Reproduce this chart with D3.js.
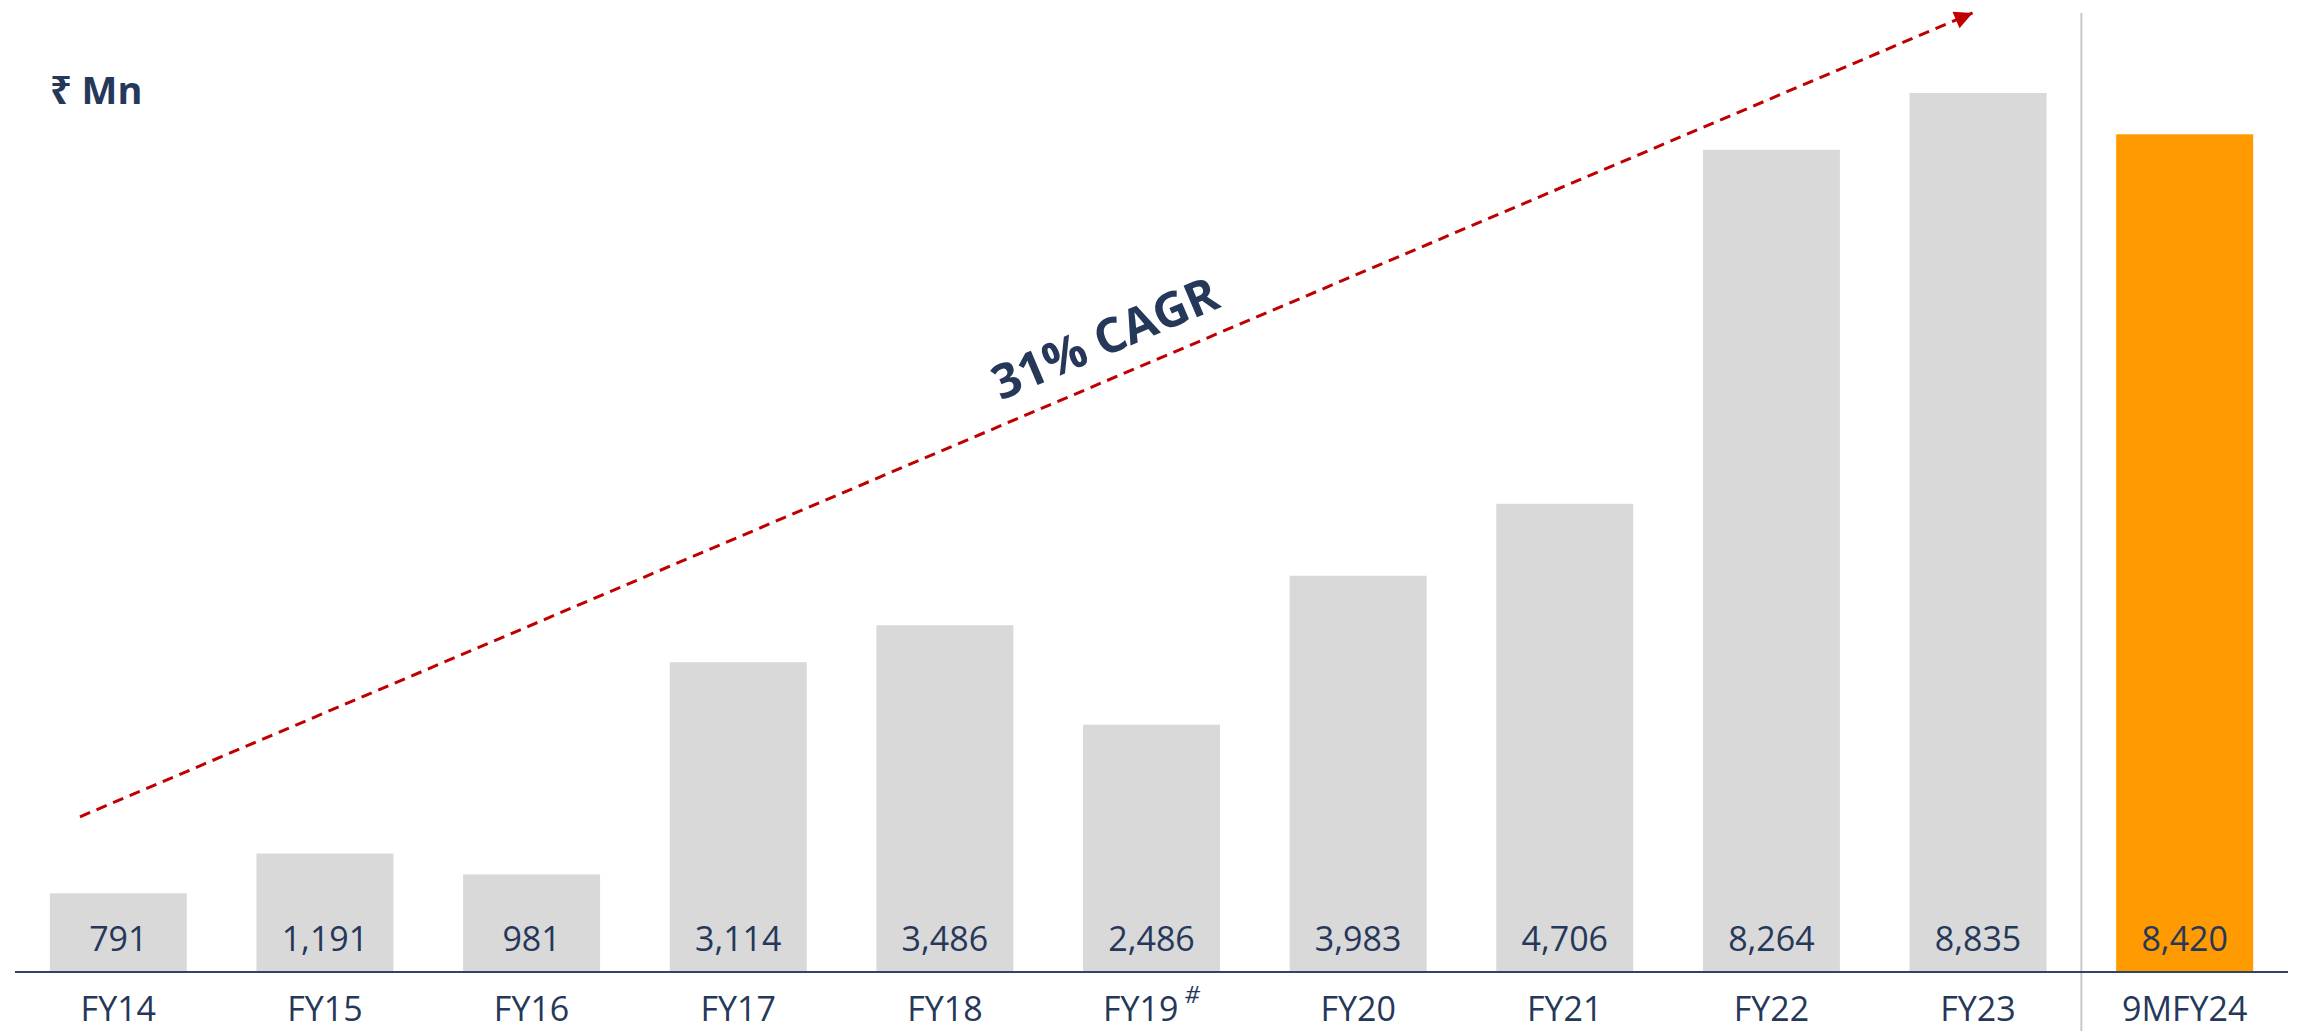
<!DOCTYPE html>
<meta charset="utf-8">
<style>
  body { margin: 0; background: #fff; }
  text { font-family: "Open Sans", "Noto Sans", "DejaVu Sans", sans-serif; }
</style>
<div id="chart"></div>
<script src="https://cdn.jsdelivr.net/npm/d3@7"></script>
<script>

// data
var categories = ["FY14", "FY15", "FY16", "FY17", "FY18", "FY19", "FY20", "FY21", "FY22", "FY23", "9MFY24"];
var values = [791, 1191, 981, 3114, 3486, 2486, 3983, 4706, 8264, 8835, 8420];
var superscripts = ["", "", "", "", "", "#", "", "", "", "", ""];
var unitLabel = "\u20B9 Mn";
var cagrLabel = "31% CAGR";
var highlight = "9MFY24";

var width = 2300, height = 1031;
var baseY = 972;
var navy = "#263859";

var svg = d3.select("#chart")
  .append("svg")
    .attr("width", width)
    .attr("height", height);

// x axis
var x = d3.scaleBand()
  .domain(categories)
  .range([15, 2288])
  .paddingInner(0.337)
  .paddingOuter(0.1685);

// y scale (no visible axis)
var y = d3.scaleLinear()
  .domain([0, 8835])
  .range([baseY, 93]);

// separator between full years and 9M
var sepX = x("FY23") + x.bandwidth() + (x.step() - x.bandwidth()) / 2;
svg.append("line")
  .attr("x1", sepX).attr("x2", sepX)
  .attr("y1", 13).attr("y2", height)
  .attr("stroke", "#c8c8c8")
  .attr("stroke-width", 2);

// bars
svg.selectAll(".bar")
  .data(categories)
  .enter()
  .append("rect")
    .attr("class", "bar")
    .attr("x", function(d) { return x(d); })
    .attr("y", function(d, i) { return y(values[i]); })
    .attr("width", x.bandwidth())
    .attr("height", function(d, i) { return baseY - y(values[i]); })
    .attr("fill", function(d) { return d === highlight ? "#ff9a00" : "#d9d9d9"; });

// value labels inside bars
svg.selectAll(".val")
  .data(categories)
  .enter()
  .append("text")
    .attr("class", "val")
    .attr("x", function(d) { return x(d) + x.bandwidth() / 2; })
    .attr("y", baseY - 21)
    .attr("text-anchor", "middle")
    .attr("font-size", 34)
    .attr("fill", navy)
    .text(function(d, i) { return d3.format(",")(values[i]); });

// baseline
svg.append("line")
  .attr("x1", 15).attr("x2", 2288)
  .attr("y1", baseY).attr("y2", baseY)
  .attr("stroke", "#2e4468")
  .attr("stroke-width", 2);

// category labels
var cat = svg.selectAll(".cat")
  .data(categories)
  .enter()
  .append("text")
    .attr("class", "cat")
    .attr("x", function(d) { return x(d) + x.bandwidth() / 2; })
    .attr("y", baseY + 49)
    .attr("text-anchor", "middle")
    .attr("font-size", 34)
    .attr("fill", navy);
cat.append("tspan").text(function(d) { return d; });
cat.append("tspan")
  .attr("font-size", 24)
  .attr("font-style", "italic")
  .attr("dx", 6)
  .attr("dy", -18)
  .text(function(d, i) { return superscripts[i]; });

// unit label
svg.append("text")
  .attr("x", 50)
  .attr("y", 104)
  .attr("font-size", 38)
  .attr("font-weight", "bold")
  .attr("fill", navy)
  .text(unitLabel);

// CAGR arrow
svg.append("defs").append("marker")
  .attr("id", "head")
  .attr("viewBox", "0 0 10 10")
  .attr("refX", 10).attr("refY", 5)
  .attr("markerWidth", 23).attr("markerHeight", 18)
  .attr("markerUnits", "userSpaceOnUse")
  .attr("orient", "auto")
  .append("path")
    .attr("d", "M0,0L10,5L0,10Z")
    .attr("fill", "#c00000");

var a0 = [x("FY14") + x.bandwidth() * 0.22, y(1560)];
var a1 = [x("FY23") + x.bandwidth() * 0.46, y(9640)];

svg.append("line")
  .attr("x1", a0[0]).attr("y1", a0[1])
  .attr("x2", a1[0]).attr("y2", a1[1])
  .attr("stroke", "#c00000")
  .attr("stroke-width", 3)
  .attr("stroke-dasharray", "11,7")
  .attr("marker-end", "url(#head)");

var ang = Math.atan2(a1[1] - a0[1], a1[0] - a0[0]) * 180 / Math.PI;
var t = 0.545;
var tx = a0[0] + (a1[0] - a0[0]) * t,
    ty = a0[1] + (a1[1] - a0[1]) * t - 25;

svg.append("text")
  .attr("transform", "translate(" + tx + "," + ty + ")rotate(" + ang + ")")
  .attr("text-anchor", "middle")
  .attr("font-size", 48)
  .attr("font-weight", "bold")
  .attr("fill", navy)
  .text(cagrLabel);

</script>
